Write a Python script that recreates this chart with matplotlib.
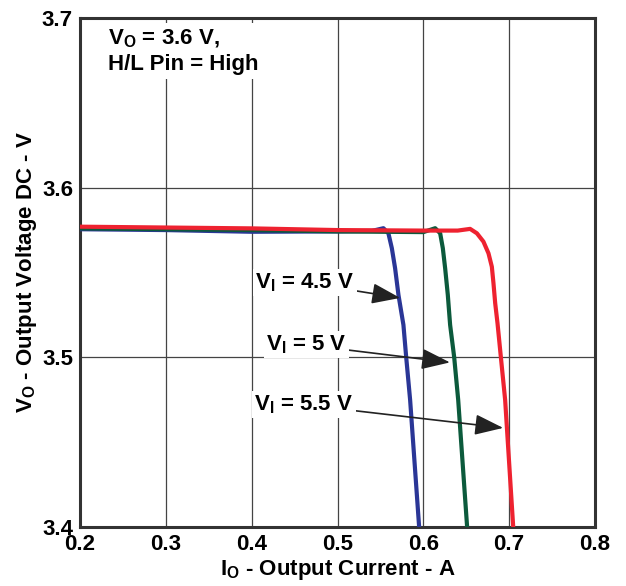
import matplotlib.pyplot as plt

plt.rcParams['font.family'] = ['Liberation Sans', 'DejaVu Sans']
plt.rcParams['font.weight'] = 'bold'
plt.rcParams['mathtext.fontset'] = 'custom'
plt.rcParams['mathtext.rm'] = 'Liberation Sans:bold'
plt.rcParams['mathtext.it'] = 'Liberation Sans:bold'
plt.rcParams['mathtext.bf'] = 'Liberation Sans:bold'

# curves
io_45 = [0.2, 0.3, 0.4, 0.5, 0.54, 0.5535, 0.5593, 0.5633, 0.5671, 0.571, 0.5768, 0.58, 0.5846, 0.5951]
vo_45 = [3.5755, 3.575, 3.574, 3.5742, 3.5745, 3.5761, 3.5731, 3.5643, 3.5525, 3.5368, 3.5191, 3.5002, 3.4749, 3.4]

io_5 = [0.2, 0.3, 0.4, 0.5, 0.6, 0.6138, 0.6196, 0.6227, 0.6254, 0.6285, 0.6312, 0.6359, 0.6406, 0.651]
vo_5 = [3.576, 3.5755, 3.575, 3.5742, 3.5738, 3.5761, 3.5731, 3.5643, 3.5525, 3.5368, 3.5191, 3.5002, 3.4749, 3.4]

io_55 = [0.2, 0.3, 0.4, 0.5, 0.6, 0.64, 0.6545, 0.6624, 0.670, 0.6759, 0.6798, 0.6817, 0.6837, 0.6864,
         0.6903, 0.6953, 0.7047]
vo_55 = [3.577, 3.5765, 3.576, 3.575, 3.5747, 3.5747, 3.5757, 3.5731, 3.5682, 3.5613, 3.5534, 3.5437, 3.5319, 3.5201,
         3.5002, 3.4749, 3.4]

labels = ['V$_\\mathrm{I}$ = 4.5 V', 'V$_\\mathrm{I}$ = 5 V', 'V$_\\mathrm{I}$ = 5.5 V']
label_xy = [(0.462, 3.544), (0.4634, 3.5073), (0.461, 3.472)]
arrow_xy = [(0.573, 3.535), (0.631, 3.497), (0.693, 3.4584)]

fig = plt.figure(figsize=(6.26, 5.86), dpi=100)
ax = fig.add_axes([0.1278, 0.1007, 0.8227, 0.8686])

ax.plot(io_45, vo_45, color='#2a3696', lw=3, zorder=3, solid_joinstyle='round')
ax.plot(io_5, vo_5, color='#0c5a3c', lw=3, zorder=3, solid_joinstyle='round')
ax.plot(io_55, vo_55, color='#ee2230', lw=3, zorder=4, solid_joinstyle='round')

for lab, txy, axy in zip(labels, label_xy, arrow_xy):
    ax.annotate(lab, xy=axy, xytext=txy, ha='center', va='center', fontsize=16,
                bbox=dict(boxstyle='square,pad=0.1', fc='white', ec='none'),
                arrowprops=dict(arrowstyle='-|>,head_length=1.1,head_width=0.4',
                                color='#222222', lw=1.2, shrinkA=0, shrinkB=0),
                zorder=5)

ax.text(0.2326, 3.694, 'V$_\\mathrm{O}$ = 3.6 V,\nH/L Pin = High', ha='left', va='top',
        fontsize=16, linespacing=1.2,
        bbox=dict(boxstyle='square,pad=0.2', fc='white', ec='none'), zorder=5)

ax.set_xlim(0.2, 0.8)
ax.set_ylim(3.4, 3.7)
ax.set_xticks([0.2, 0.3, 0.4, 0.5, 0.6, 0.7, 0.8])
ax.set_yticks([3.4, 3.5, 3.6, 3.7])
ax.grid(True, color='#444444', lw=0.9)
ax.set_axisbelow(True)
ax.tick_params(length=0, labelsize=16, pad=5)
for lbl in ax.get_xticklabels() + ax.get_yticklabels():
    lbl.set_fontweight('bold')
for s in ax.spines.values():
    s.set_linewidth(2.2)
    s.set_color('#333333')

ax.set_xlabel('I$_\\mathrm{O}$ - Output Current - A', fontsize=16, fontweight='bold', labelpad=2)
ax.set_ylabel('V$_\\mathrm{O}$ - Output Voltage DC - V', fontsize=16, fontweight='bold', labelpad=2)

fig.savefig('out.png', dpi=100)
